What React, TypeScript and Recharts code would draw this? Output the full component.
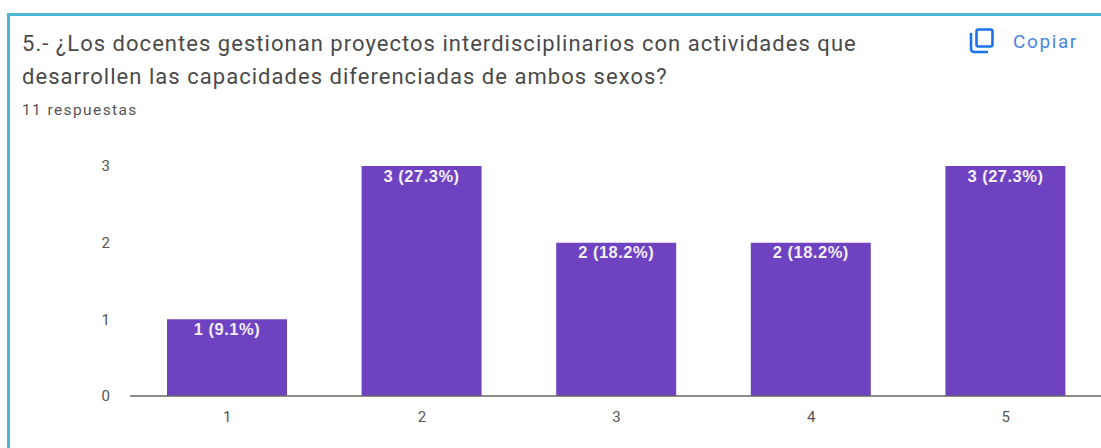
import { BarChart, Bar, XAxis, YAxis, LabelList } from "recharts";

const categories = ["1", "2", "3", "4", "5"];
const counts = [1, 3, 2, 2, 3];
const percents = ["9.1", "27.3", "18.2", "18.2", "27.3"];
const yTicks = [0, 1, 2, 3];

const titleLines = [
  "5.- ¿Los docentes gestionan proyectos interdisciplinarios con actividades que",
  "desarrollen las capacidades diferenciadas de ambos sexos?",
];

const data = categories.map((name, i) => ({
  name,
  count: counts[i],
  label: `${counts[i]} (${percents[i]}%)`,
}));

const font = "Roboto, sans-serif";

export default function App() {
  return (
    <div style={{ position: "absolute", left: 0, top: 0, width: 1101, height: 448, background: "#fff", overflow: "hidden" }}>
      {/* card frame, runs off the right side and bottom */}
      <div
        style={{
          position: "absolute",
          left: 7,
          top: 13,
          width: 1200,
          height: 600,
          border: "3px solid #4db6d6",
          boxSizing: "border-box",
        }}
      />
      <div style={{ position: "absolute", left: 22, top: 27, fontFamily: font, fontSize: 22, lineHeight: "33px", color: "#4a4a4a", letterSpacing: 1.03, whiteSpace: "nowrap" }}>
        {titleLines.map((t) => (
          <div key={t}>{t}</div>
        ))}
      </div>
      <div style={{ position: "absolute", left: 22, top: 101, fontFamily: font, fontSize: 15.5, color: "#555", letterSpacing: 1.4, whiteSpace: "nowrap" }}>
        11 respuestas
      </div>
      <svg style={{ position: "absolute", left: 968, top: 27 }} width={28} height={28} viewBox="0 0 28 28" fill="none" stroke="#1a73e8" strokeWidth={2.6}>
        <rect x={8.5} y={2.5} width={16} height={17} rx={2} />
        <path d="M3 6 V22 a3 3 0 0 0 3 3 H20" />
      </svg>
      <div style={{ position: "absolute", left: 1013, top: 30, fontFamily: font, fontSize: 19, color: "#4a86e0", letterSpacing: 1.6 }}>
        Copiar
      </div>
      <BarChart
        style={{ position: "absolute", left: 0, top: 0 }}
        width={1101}
        height={448}
        data={data}
        margin={{ top: 166, right: -2, bottom: 0, left: 0 }}
      >
        <XAxis
          dataKey="name"
          height={52}
          tickLine={false}
          axisLine={{ stroke: "#666", strokeWidth: 1.5 }}
          tickMargin={9}
          tick={{ fontSize: 15, fill: "#555", fontFamily: font }}
        />
        <YAxis
          width={130}
          domain={[0, 3]}
          ticks={yTicks}
          tickLine={false}
          axisLine={false}
          tickMargin={14}
          tick={{ fontSize: 15, fill: "#555", fontFamily: font }}
        />
        <Bar dataKey="count" fill="#6f42c1" barSize={120} isAnimationActive={false}>
          <LabelList
            dataKey="label"
            position="insideTop"
            offset={4}
            fill="#f3eefb"
            style={{ fontSize: 16.5, fontWeight: 700, letterSpacing: 0.5, fontFamily: "'Liberation Sans', Arial, sans-serif" }}
          />
        </Bar>
      </BarChart>
    </div>
  );
}
